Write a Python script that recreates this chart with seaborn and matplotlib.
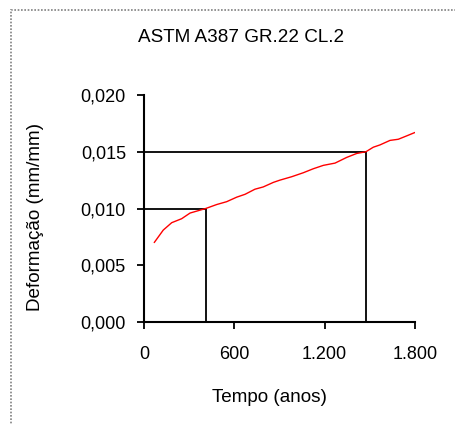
import matplotlib
matplotlib.use("Agg")
import matplotlib.pyplot as plt
import seaborn as sns
import pandas as pd
from matplotlib.patches import Rectangle
from matplotlib.ticker import FuncFormatter

sns.set_theme(style="white")
plt.rcParams['font.family'] = ['Liberation Sans', 'DejaVu Sans']

# Data
tempo = [68, 128, 184, 250, 306, 410, 483, 549, 616, 671, 737, 792, 859, 903,
         981, 1058, 1124, 1191, 1269, 1346, 1413, 1474, 1523, 1567, 1634, 1689,
         1745, 1800]
deformacao = [0.0070, 0.0081, 0.00875, 0.0091, 0.0096, 0.0100, 0.01035, 0.0106,
              0.0110, 0.01125, 0.0117, 0.0119, 0.0123, 0.0125, 0.0128, 0.01315,
              0.0135, 0.0138, 0.0140, 0.0145, 0.01485, 0.0150, 0.0154, 0.0156,
              0.0160, 0.0161, 0.0164, 0.0167]
ref_tempo = [410, 1474]
ref_deform = [0.010, 0.015]
x_ticks = [0, 600, 1200, 1800]
y_ticks = [0.0, 0.005, 0.010, 0.015, 0.020]
title = "ASTM A387 GR.22 CL.2"
xlabel = "Tempo (anos)"
ylabel = "Deformação (mm/mm)"

df = pd.DataFrame({"tempo": tempo, "deformacao": deformacao})

fig = plt.figure(figsize=(4.56, 4.25), dpi=100)
ax = fig.add_axes([144/456, 1-322/425, (415-144)/456, (322-95)/425])

# reference lines
for t, d in zip(ref_tempo, ref_deform):
    ax.plot([0, t, t], [d, d, 0], color="black", lw=1.3, solid_capstyle="butt",
            clip_on=False, zorder=2)

sns.lineplot(data=df, x="tempo", y="deformacao", ax=ax, color="#ff0000",
             lw=1.0, zorder=3)

ax.set_xlim(0, 1800)
ax.set_ylim(0, 0.020)
ax.set_xticks(x_ticks)
ax.set_yticks(y_ticks)
ax.xaxis.set_major_formatter(FuncFormatter(lambda v, p: f"{int(v):,}".replace(",", ".")))
ax.yaxis.set_major_formatter(FuncFormatter(lambda v, p: f"{v:.3f}".replace(".", ",")))
for s in ["top", "right"]:
    ax.spines[s].set_visible(False)
for s in ["left", "bottom"]:
    ax.spines[s].set_color("black")
    ax.spines[s].set_linewidth(1.5)
ax.tick_params(axis="both", which="major", direction="out", length=5, width=1.3,
               colors="black", labelsize=13, left=True, bottom=True)
ax.tick_params(axis="y", pad=8)
ax.tick_params(axis="x", pad=12)
ax.set_xlabel("")
ax.set_ylabel("")
ax.grid(False)

fig.text(241/456, 1-38/425, title, ha="center", va="center", fontsize=13.6, color="black")
fig.text(269/456, 1-398/425, xlabel, ha="center", va="center", fontsize=13.6, color="black")
fig.text(36/456, 1-217/425, ylabel, ha="center", va="center", rotation=90,
         fontsize=13.6, color="black")

# dotted frame
fig.patches.append(Rectangle((11/456, -0.1), 1.2, 1-10/425+0.1, transform=fig.transFigure,
                             fill=False, edgecolor="#808080", lw=1.2, linestyle=(0, (1, 1))))

fig.savefig("out.png", dpi=100)
